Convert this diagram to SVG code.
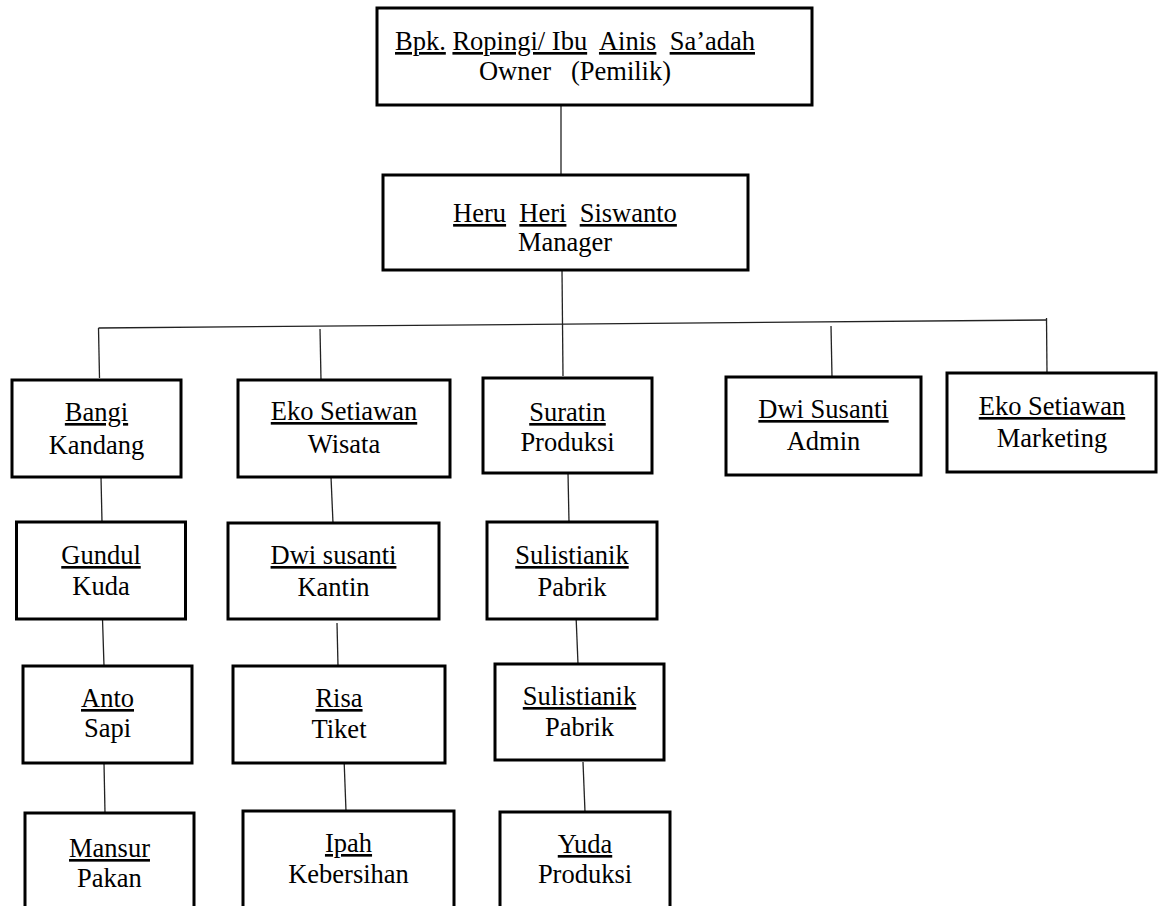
<svg xmlns="http://www.w3.org/2000/svg" width="1158" height="906" viewBox="0 0 1158 906">
<style>
.box{fill:#fff;stroke:#000;stroke-width:3}
.t{font-family:"Liberation Serif","Times New Roman",serif;font-size:26.5px;fill:#000;text-anchor:middle}
.u{text-decoration:underline}
.c{stroke:#222;stroke-width:1.3;fill:none}
</style>
<rect width="1158" height="906" fill="#fff"/>
<g id="connectors">
<line class="c" x1="561" y1="105" x2="561" y2="175"/>
<line class="c" x1="562" y1="270" x2="563" y2="376"/>
<line class="c" x1="98.5" y1="328" x2="1047" y2="320"/>
<line class="c" x1="98.5" y1="328" x2="99.5" y2="378"/>
<line class="c" x1="320" y1="329" x2="321" y2="380"/>
<line class="c" x1="831" y1="326" x2="832" y2="377"/>
<line class="c" x1="1046.5" y1="318" x2="1047" y2="373"/>
<line class="c" x1="101" y1="477" x2="102" y2="522"/>
<line class="c" x1="102.5" y1="619" x2="104" y2="666"/>
<line class="c" x1="104" y1="763" x2="105" y2="813"/>
<line class="c" x1="331" y1="477" x2="333" y2="523"/>
<line class="c" x1="337" y1="623" x2="338" y2="666"/>
<line class="c" x1="344" y1="758" x2="346" y2="811"/>
<line class="c" x1="568" y1="473" x2="569" y2="522"/>
<line class="c" x1="576" y1="615" x2="578" y2="664"/>
<line class="c" x1="583" y1="762" x2="585" y2="812"/>
</g>
<g id="owner">
<rect class="box" x="377" y="8" width="435" height="97"/>
<text class="t" x="575" y="50" xml:space="preserve"><tspan class="u">Bpk.</tspan> <tspan class="u">Ropingi/ Ibu</tspan>  <tspan class="u">Ainis</tspan>  <tspan class="u">Sa’adah</tspan></text>
<text class="t" x="575" y="80" xml:space="preserve">Owner   (Pemilik)</text>
</g>
<g id="manager">
<rect class="box" x="383" y="175" width="365" height="95"/>
<text class="t" x="565" y="222" xml:space="preserve"><tspan class="u">Heru</tspan>  <tspan class="u">Heri</tspan>  <tspan class="u">Siswanto</tspan></text>
<text class="t" x="565" y="251">Manager</text>
</g>
<g id="bangi">
<rect class="box" x="12" y="380" width="169" height="97"/>
<text class="t u" x="96.5" y="421">Bangi</text>
<text class="t" x="96.5" y="454">Kandang</text>
</g>
<g id="eko-wisata">
<rect class="box" x="238" y="380" width="212" height="97"/>
<text class="t u" x="344" y="420">Eko Setiawan</text>
<text class="t" x="344" y="453">Wisata</text>
</g>
<g id="suratin">
<rect class="box" x="483" y="378" width="169" height="95"/>
<text class="t u" x="567.5" y="421">Suratin</text>
<text class="t" x="567.5" y="451">Produksi</text>
</g>
<g id="admin">
<rect class="box" x="726" y="377" width="195" height="98"/>
<text class="t u" x="823.5" y="418">Dwi Susanti</text>
<text class="t" x="823.5" y="450">Admin</text>
</g>
<g id="marketing">
<rect class="box" x="947" y="373" width="209" height="99"/>
<text class="t u" x="1052" y="415">Eko Setiawan</text>
<text class="t" x="1052" y="447">Marketing</text>
</g>
<g id="gundul">
<rect class="box" x="16.5" y="522" width="169" height="97"/>
<text class="t u" x="101" y="564">Gundul</text>
<text class="t" x="101" y="595">Kuda</text>
</g>
<g id="dwi-kantin">
<rect class="box" x="228" y="523" width="211" height="96"/>
<text class="t u" x="333.5" y="564">Dwi susanti</text>
<text class="t" x="333.5" y="596">Kantin</text>
</g>
<g id="sulistianik-1">
<rect class="box" x="487" y="522" width="170" height="97"/>
<text class="t u" x="572" y="564">Sulistianik</text>
<text class="t" x="572" y="596">Pabrik</text>
</g>
<g id="anto">
<rect class="box" x="23" y="666" width="169" height="97"/>
<text class="t u" x="107.5" y="707">Anto</text>
<text class="t" x="107.5" y="737">Sapi</text>
</g>
<g id="risa">
<rect class="box" x="233" y="666" width="212" height="97"/>
<text class="t u" x="339" y="707">Risa</text>
<text class="t" x="339" y="738">Tiket</text>
</g>
<g id="sulistianik-2">
<rect class="box" x="495" y="664" width="169" height="96"/>
<text class="t u" x="579.5" y="705">Sulistianik</text>
<text class="t" x="579.5" y="736">Pabrik</text>
</g>
<g id="mansur">
<rect class="box" x="25" y="813" width="169" height="120"/>
<text class="t u" x="109.5" y="857">Mansur</text>
<text class="t" x="109.5" y="887">Pakan</text>
</g>
<g id="ipah">
<rect class="box" x="243" y="811" width="211" height="120"/>
<text class="t u" x="348.5" y="852">Ipah</text>
<text class="t" x="348.5" y="883">Kebersihan</text>
</g>
<g id="yuda">
<rect class="box" x="500" y="812" width="170" height="120"/>
<text class="t u" x="585" y="853">Yuda</text>
<text class="t" x="585" y="883">Produksi</text>
</g>
</svg>
